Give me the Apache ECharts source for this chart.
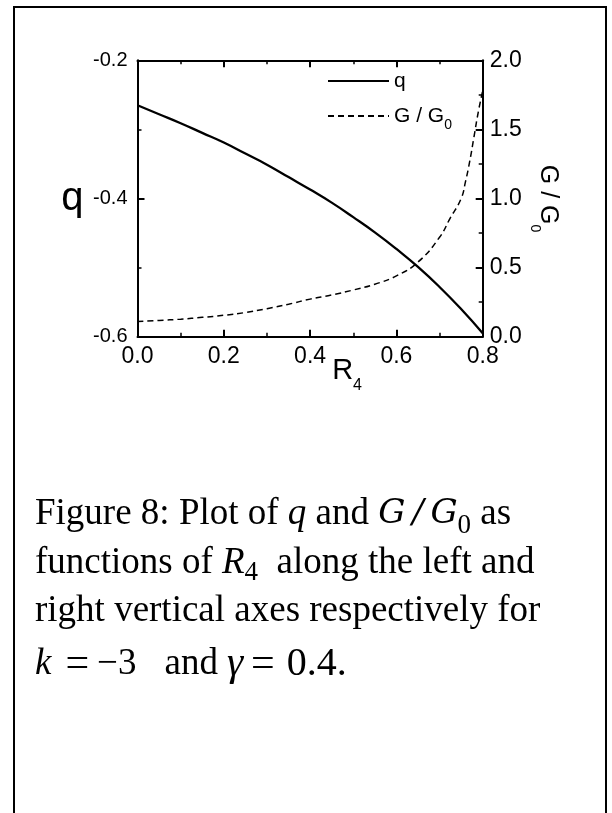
<!DOCTYPE html>
<html>
<head>
<meta charset="utf-8">
<script src="https://cdn.jsdelivr.net/npm/echarts@6/dist/echarts.min.js"></script>
<style>
  html, body { margin: 0; padding: 0; background: #fff; }
  #chart { width: 612px; height: 813px; }
</style>
</head>
<body>
<div id="chart"></div>
<script>
// q against R4 (left axis)
const rValues = [0, 0.05, 0.1, 0.15, 0.2, 0.25, 0.3, 0.35, 0.4, 0.45, 0.5, 0.55, 0.6, 0.65, 0.7, 0.75, 0.8]
const qValues = [-0.265, -0.278, -0.291, -0.305, -0.319, -0.335, -0.351, -0.369, -0.387, -0.406, -0.427, -0.449, -0.473, -0.499, -0.528, -0.56, -0.595]

// G / G0 against R4 (right axis)
const gR = [0, 0.05, 0.1, 0.15, 0.2, 0.25, 0.3, 0.35, 0.4, 0.45, 0.5, 0.55, 0.6, 0.65, 0.7, 0.725, 0.75, 0.76, 0.77, 0.78, 0.79, 0.8]
const gValues = [0.11, 0.118, 0.127, 0.14, 0.155, 0.175, 0.203, 0.235, 0.272, 0.302, 0.338, 0.38, 0.44, 0.54, 0.72, 0.86, 1.0, 1.12, 1.27, 1.45, 1.63, 1.78]

const seriesNames = ['q', 'G / G0']
const captionLines = [
  'Figure 8: Plot of {i|q} and {gi|G\u2009/\u2009G}{sub|0} as',
  'functions of {i|R}{sub4|4}  along the left and',
  'right vertical axes respectively for',
  '{i|k}{eqa|=}{m|−3}{and|and}{gy|γ}{eqb|=}{num|0.4.}'
]

const sans = "'Liberation Sans', Arial, sans-serif"
const serif = "'Liberation Serif', 'Times New Roman', serif"
const dserif = "'DejaVu Serif', serif"
const black = '#000'

const fmt = v => v.toFixed(1)

function boxAxis(extra) {
  return Object.assign({
    type: 'value',
    axisLine: { show: true, onZero: false, lineStyle: { color: black, width: 2 } },
    axisTick: { show: true, inside: true, length: 7, lineStyle: { color: black, width: 2 } },
    minorTick: { show: true, splitNumber: 2, length: 4, lineStyle: { color: black, width: 1.5 } },
    splitLine: { show: false },
    minorSplitLine: { show: false },
    nameMoveOverlap: false
  }, extra)
}

const tok = (extra) => Object.assign({ fontSize: 37, fontFamily: serif, fill: black }, extra)

const captionBaselines = [527, 576, 624, 677]
const caption = captionLines.map((text, i) => ({
  type: 'text',
  x: 35,
  y: captionBaselines[i] - 12.5,
  silent: true,
  style: {
    text: text,
    fontSize: 37,
    fontFamily: serif,
    fill: black,
    verticalAlign: 'middle',
    rich: {
      i: tok({ fontStyle: 'italic' }),
      gi: tok({ fontFamily: dserif, fontStyle: 'italic', fontSize: 34 }),
      sub: tok({ fontSize: 27, padding: [22, 0, 0, 0] }),
      sub4: tok({ fontSize: 27, padding: [18, 0, 0, 0] }),
      eqa: tok({ fontSize: 42, padding: [0, 0, 0, 14] }),
      m: tok({ padding: [0, 0, 0, 8] }),
      and: tok({ padding: [0, 0, 0, 28] }),
      gy: tok({ fontStyle: 'italic', fontSize: 41, padding: [0, 0, 0, 9] }),
      eqb: tok({ fontSize: 42, padding: [0, 0, 0, 8] }),
      num: tok({ fontSize: 40, padding: [0, 0, 0, 12] })
    }
  }
}))

const chart = echarts.init(document.getElementById('chart'))

chart.setOption({
  animation: false,
  backgroundColor: '#fff',
  grid: {
    left: 137.5,
    right: 129.3,
    top: 60.3,
    bottom: 476.3,
    containLabel: false,
    outerBoundsMode: 'none'
  },
  legend: {
    orient: 'vertical',
    left: 327,
    top: 70.5,
    padding: 0,
    itemWidth: 61,
    itemHeight: 14,
    itemGap: 14,
    data: seriesNames,
    itemStyle: { opacity: 0, borderWidth: 0 },
    formatter: name => (name === 'G / G0' ? 'G / G{sub|0}' : name),
    textStyle: {
      fontFamily: sans,
      fontSize: 21,
      color: black,
      rich: {
        sub: { fontFamily: sans, fontSize: 14, color: black, padding: [18, 0, 0, 0] }
      }
    }
  },
  xAxis: [
    boxAxis({
      position: 'bottom',
      min: 0,
      max: 0.8,
      interval: 0.2,
      axisLabel: { fontFamily: sans, fontSize: 23, color: black, margin: 8, formatter: fmt, showMinLabel: true, showMaxLabel: true },
      name: 'R{sub|4}',
      nameLocation: 'middle',
      nameGap: 11,
      nameTextStyle: {
        fontFamily: sans,
        fontSize: 29,
        color: black,
        padding: [0, 0, 0, 74],
        rich: { sub: { fontFamily: sans, fontSize: 16, color: black, padding: [30, 0, 0, 0] } }
      }
    }),
    boxAxis({
      position: 'top',
      min: 0,
      max: 0.8,
      interval: 0.2,
      axisLabel: { show: false }
    })
  ],
  yAxis: [
    boxAxis({
      position: 'left',
      min: -0.6,
      max: -0.2,
      interval: 0.2,
      axisLabel: { fontFamily: sans, fontSize: 20, color: black, margin: 10, formatter: fmt, showMinLabel: true, showMaxLabel: true },
      name: 'q',
      nameLocation: 'middle',
      nameRotate: 0,
      nameGap: 54,
      nameTextStyle: { fontFamily: sans, fontSize: 40, color: black, padding: [0, 0, 10, 0] }
    }),
    boxAxis({
      position: 'right',
      min: 0,
      max: 2,
      interval: 0.5,
      axisLabel: { fontFamily: sans, fontSize: 23, color: black, margin: 7, formatter: fmt, showMinLabel: true, showMaxLabel: true },
      name: 'G / G{sub|0}',
      nameLocation: 'middle',
      nameRotate: -90,
      nameGap: 45,
      nameTextStyle: {
        fontFamily: sans,
        fontSize: 25,
        color: black,
        rich: { sub: { fontFamily: sans, fontSize: 14, color: black, padding: [26, 0, 0, 0] } }
      }
    })
  ],
  series: [
    {
      name: seriesNames[0],
      type: 'line',
      xAxisIndex: 0,
      yAxisIndex: 0,
      smooth: true,
      symbol: 'none',
      data: rValues.map((r, i) => [r, qValues[i]]),
      lineStyle: { color: black, width: 2.3, type: 'solid' },
      itemStyle: { color: black }
    },
    {
      name: seriesNames[1],
      type: 'line',
      xAxisIndex: 0,
      yAxisIndex: 1,
      smooth: true,
      symbol: 'none',
      data: gR.map((r, i) => [r, gValues[i]]),
      lineStyle: { color: black, width: 1.5, type: [6, 4] },
      itemStyle: { color: black }
    }
  ],
  graphic: [
    {
      type: 'rect',
      silent: true,
      shape: { x: 14, y: 7, width: 592, height: 830 },
      style: { fill: 'none', stroke: black, lineWidth: 2 }
    }
  ].concat(caption)
})
</script>
</body>
</html>
